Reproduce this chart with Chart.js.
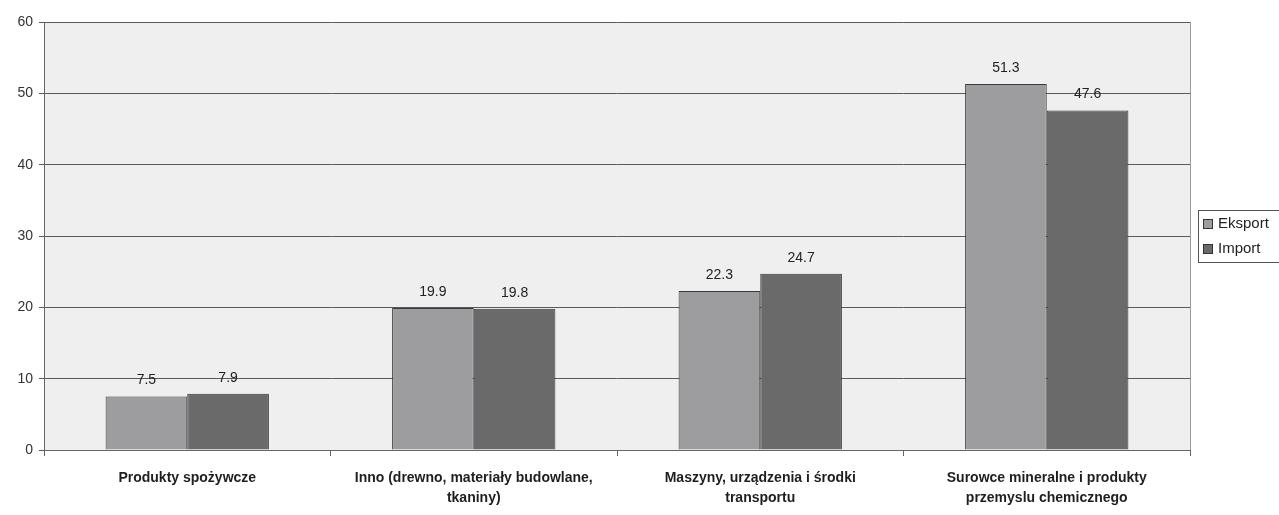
<!DOCTYPE html>
<html lang="pl">
<head>
<meta charset="utf-8">
<title>Eksport i import według grup towarowych</title>
<script src="https://cdn.jsdelivr.net/npm/chart.js@4.4.1/dist/chart.umd.min.js"></script>
<style>
  html, body { margin: 0; padding: 0; background: #ffffff; }
  #wrap { width: 1279px; height: 515px; position: relative; }
</style>
</head>
<body>
<div id="wrap"><canvas id="chart" width="1279" height="515"></canvas></div>
<script>
// Grupy towarowe (etykiety osi X, wiersze etykiet łamane ręcznie)
const categories = [
  ["Produkty spożywcze"],
  ["Inno (drewno, materiały budowlane,", "tkaniny)"],
  ["Maszyny, urządzenia i środki", "transportu"],
  ["Surowce mineralne i produkty", "przemyslu chemicznego"]
];

// Udział procentowy w eksporcie i imporcie
const eksport = [7.5, 19.9, 22.3, 51.3];
const importValues = [7.9, 19.8, 24.7, 47.6];

const seriesNames = ["Eksport", "Import"];

// Oś Y
const yMin = 0;
const yMax = 60;
const yStep = 10;

const FONT = "'Liberation Sans', Arial, sans-serif";

// Tło obszaru wykresu i prawa krawędź ramki
const plotBackground = {
  id: 'plotBackground',
  beforeDraw(chart) {
    const { ctx, chartArea: a } = chart;
    ctx.save();
    ctx.fillStyle = '#efefef';
    ctx.fillRect(a.left, a.top, a.right - a.left, a.bottom - a.top);
    ctx.strokeStyle = '#9a9a9a';
    ctx.lineWidth = 1;
    ctx.beginPath();
    ctx.moveTo(Math.round(a.right) + 0.5, a.top);
    ctx.lineTo(Math.round(a.right) + 0.5, a.bottom);
    ctx.stroke();
    ctx.restore();
  }
};

// Wartości nad słupkami
const valueLabels = {
  id: 'valueLabels',
  afterDatasetsDraw(chart) {
    const { ctx } = chart;
    ctx.save();
    ctx.font = '14px ' + FONT;
    ctx.fillStyle = '#222222';
    ctx.textAlign = 'center';
    ctx.textBaseline = 'middle';
    chart.data.datasets.forEach((ds, i) => {
      chart.getDatasetMeta(i).data.forEach((bar, j) => {
        ctx.fillText(String(ds.data[j]), bar.x, bar.y - 16);
      });
    });
    ctx.restore();
  }
};

// Legenda w ramce po prawej stronie
const boxedLegend = {
  id: 'boxedLegend',
  afterDraw(chart) {
    const { ctx, chartArea: a } = chart;
    const x0 = Math.round(a.right) + 8;
    const y0 = 210;
    const rowH = 25;
    ctx.save();
    ctx.strokeStyle = '#555555';
    ctx.lineWidth = 1;
    ctx.strokeRect(x0 + 0.5, y0 + 0.5, chart.width - x0 + 2, 52);
    ctx.font = '15px ' + FONT;
    ctx.textBaseline = 'middle';
    ctx.textAlign = 'left';
    chart.data.datasets.forEach((ds, i) => {
      const cy = y0 + 13 + i * rowH;
      ctx.fillStyle = ds.backgroundColor;
      ctx.fillRect(x0 + 5, cy - 4, 10, 10);
      ctx.strokeStyle = '#333333';
      ctx.strokeRect(x0 + 5.5, cy - 3.5, 9, 9);
      ctx.fillStyle = '#222222';
      ctx.fillText(ds.label, x0 + 20, cy + 1);
    });
    ctx.restore();
  }
};

new Chart(document.getElementById('chart'), {
  type: 'bar',
  data: {
    labels: categories,
    datasets: [
      {
        label: seriesNames[0],
        data: eksport,
        backgroundColor: '#9d9d9f',
        borderColor: '#3a3a3a',
        borderWidth: 1,
        categoryPercentage: 0.57,
        barPercentage: 1.0
      },
      {
        label: seriesNames[1],
        data: importValues,
        backgroundColor: '#6a6a6a',
        borderColor: '#3a3a3a',
        borderWidth: 1,
        categoryPercentage: 0.57,
        barPercentage: 1.0
      }
    ]
  },
  options: {
    responsive: false,
    animation: false,
    devicePixelRatio: 1,
    layout: { padding: { top: 22, right: 89, bottom: 0, left: 0 } },
    plugins: {
      legend: { display: false },
      tooltip: { enabled: false }
    },
    scales: {
      x: {
        offset: true,
        grid: {
          offset: true,
          drawOnChartArea: false,
          drawTicks: true,
          tickLength: 6,
          color: '#666666'
        },
        border: { color: '#666666', width: 1 },
        ticks: {
          color: '#1e1e1e',
          padding: 12,
          maxRotation: 0,
          autoSkip: false,
          font: { family: FONT, size: 14, weight: 'bold', lineHeight: 1.45 }
        },
        afterFit(scale) { scale.height = 65; }
      },
      y: {
        min: yMin,
        max: yMax,
        ticks: {
          stepSize: yStep,
          color: '#333333',
          padding: 6,
          font: { family: FONT, size: 14 }
        },
        grid: {
          color: '#5a5a5a',
          lineWidth: 1,
          drawTicks: true,
          tickLength: 5
        },
        border: { color: '#666666', width: 1 },
        afterFit(scale) { scale.width = 44; }
      }
    }
  },
  plugins: [plotBackground, valueLabels, boxedLegend]
});
</script>
</body>
</html>
